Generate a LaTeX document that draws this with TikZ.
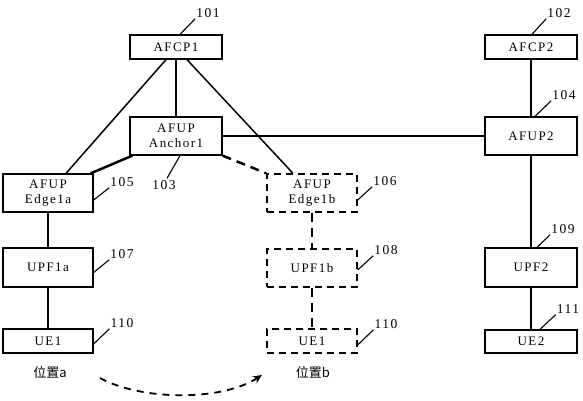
\documentclass[tikz,border=0pt]{standalone}
\usepackage{fontspec}
\setmainfont[LetterSpace=11]{Liberation Serif}
\newfontfamily\cjk{Noto Sans CJK SC}
\usetikzlibrary{calc,arrows.meta}
\begin{document}
\begin{tikzpicture}[x=1pt,y=-1pt,
  box/.style={draw,line width=1.3pt,minimum width=90pt,inner sep=0pt,align=center,font=\fontsize{13}{15}\selectfont},
  dbox/.style={box,dash pattern=on 7pt off 5pt},
  thin/.style={line width=1.5pt},
  thk/.style={line width=2.5pt},
  dthk/.style={line width=2.5pt,dash pattern=on 9pt off 6pt},
  lbl/.style={inner sep=1pt,font=\fontsize{13.5}{14}\selectfont},
  lead/.style={line width=1.1pt}]
\useasboundingbox (0,0) rectangle (583,400);
\fill[white] (0,0) rectangle (583,400);
% boxes
\node[box,minimum height=24pt,minimum width=92pt] (AFCP1) at (176,47) {AFCP1};
\node[box,minimum height=38pt,minimum width=92pt] (Anchor1) at (176,136) {AFUP\\Anchor1};
\node[box,minimum height=38pt] (Edge1a) at (48,193) {AFUP\\Edge1a};
\node[box,minimum height=39pt] (UPF1a) at (48,267.5) {UPF1a};
\node[box,minimum height=24pt] (UE1a) at (48,341) {UE1};
\node[dbox,minimum height=38pt] (Edge1b) at (312,193) {AFUP\\Edge1b};
\node[dbox,minimum height=38pt] (UPF1b) at (312,268) {UPF1b};
\node[dbox,minimum height=24pt] (UE1b) at (312,341) {UE1};
\node[box,minimum height=24pt,minimum width=92pt] (AFCP2) at (531,47) {AFCP2};
\node[box,minimum height=38pt,minimum width=92pt] (AFUP2) at (531,136) {AFUP2};
\node[box,minimum height=39pt,minimum width=92pt] (UPF2) at (531,267.5) {UPF2};
\node[box,minimum height=23pt,minimum width=92pt] (UE2) at (531,341.5) {UE2};
% connectors
\draw[thin] ($(AFCP1.south)+(-10,0)$) -- ($(Edge1a.north)+(18,0)$);
\draw[thin] (AFCP1.south) -- (Anchor1.north);
\draw[thin] ($(AFCP1.south)+(11,0)$) -- ($(Edge1b.north)+(-19,0)$);
\draw[thin] (Anchor1.east) -- (AFUP2.west);
\draw[thk] ($(Anchor1.south west)+(3,0)$) -- ($(Edge1a.north east)+(-3,0)$);
\draw[dthk] (Anchor1.south east) -- (Edge1b.north west);
\draw[thk] (Edge1a.south) -- (UPF1a.north);
\draw[thk] (UPF1a.south) -- (UE1a.north);
\draw[dthk] (Edge1b.south) -- (UPF1b.north);
\draw[dthk] (UPF1b.south) -- (UE1b.north);
\draw[thin] (AFCP2.south) -- (AFUP2.north);
\draw[thk] (AFUP2.south) -- (UPF2.north);
\draw[thk] (UPF2.south) -- (UE2.north);
% reference labels
\node[lbl] (l101) at (208,13) {101};
\draw[lead] ($(AFCP1.north)+(4,0)$) -- (l101.south west);
\node[lbl] (l102) at (559,13) {102};
\draw[lead] ($(AFCP2.north)+(1,0)$) -- (l102.south west);
\node[lbl] (l104) at (564,95) {104};
\draw[lead] ($(AFUP2.north)+(4,0)$) -- (l104.south west);
\node[lbl] (l103) at (164,185) {103};
\draw[lead] ($(Anchor1.south)+(4,0)$) -- ($(l103.north)+(3,-1)$);
\node[lbl] (l105) at (122,182) {105};
\draw[lead] ($(Edge1a.east)+(0,7)$) -- (l105.south west);
\node[lbl] (l106) at (385,181) {106};
\draw[lead] ($(Edge1b.east)+(0,7)$) -- (l106.south west);
\node[lbl] (l107) at (122,254) {107};
\draw[lead] ($(UPF1a.east)+(0,5)$) -- (l107.south west);
\node[lbl] (l108) at (386,250) {108};
\draw[lead] ($(UPF1b.east)+(0,2)$) -- (l108.south west);
\node[lbl] (l109) at (563,229) {109};
\draw[lead] ($(UPF2.north)+(6,0)$) -- (l109.south west);
\node[lbl] (l110a) at (122,323) {110};
\draw[lead] ($(UE1a.east)+(0,3)$) -- (l110a.south west);
\node[lbl] (l110b) at (386,324) {110};
\draw[lead] ($(UE1b.east)+(0,4)$) -- (l110b.south west);
\node[lbl] (l111) at (568,309) {111};
\draw[lead] ($(UE2.north)+(9,0)$) -- (l111.south west);
% positions
\node[font=\cjk\fontsize{13}{14}\selectfont] (posa) at (50,372) {位置a};
\node[font=\cjk\fontsize{13}{14}\selectfont] (posb) at (313,372) {位置b};
\coordinate (arrs) at (100,378);
\coordinate (arre) at (262,375);
\draw[line width=1.8pt,dash pattern=on 7pt off 6pt,-{Stealth[length=9pt,width=8pt]}] (arrs) .. controls (140,400) and (220,402) .. (arre);
\end{tikzpicture}
\end{document}
